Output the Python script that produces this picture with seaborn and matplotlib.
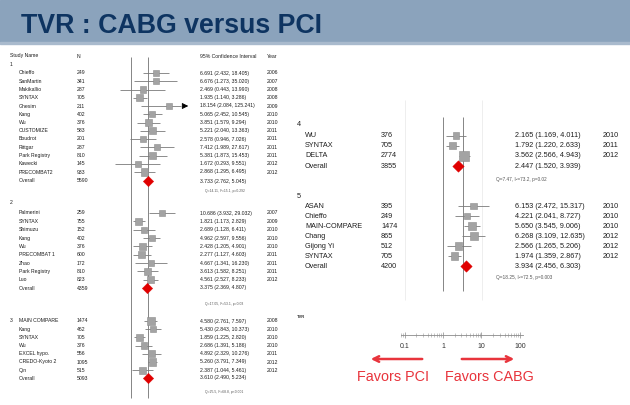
import numpy as np
import pandas as pd
import matplotlib
matplotlib.use("Agg")
import matplotlib.pyplot as plt
import seaborn as sns
from matplotlib.patches import Rectangle

sns.set_theme(style="white")
plt.rcParams["font.family"] = ["Liberation Sans", "DejaVu Sans"]

# ---------------- data ----------------
g1_names = ["Chieffo", "SanMartin", "Makikallio", "SYNTAX", "Ghesim", "Kang", "Wu", "CUSTOMIZE",
            "Boudrot", "Rittgar", "Park Registry", "Kawecki", "PRECOMBAT2"]
g1_n = [249, 341, 287, 705, 211, 402, 376, 583, 201, 287, 810, 145, 933]
g1_est = [6.691, 6.676, 2.469, 1.935, 18.154, 5.065, 3.851, 5.221, 2.578, 7.412, 5.381, 1.672, 2.868]
g1_lo = [2.432, 1.273, 0.443, 1.140, 2.084, 2.452, 1.579, 2.040, 0.946, 1.989, 1.873, 0.293, 1.295]
g1_hi = [18.405, 35.020, 13.990, 3.286, 125.241, 10.545, 9.294, 13.363, 7.026, 27.617, 15.453, 9.551, 6.495]
g1_year = [2006, 2007, 2008, 2008, 2009, 2010, 2010, 2011, 2011, 2011, 2011, 2012, 2012]
g1_overall = [5590, 3.733, 2.762, 5.045]
g1_q = "Q=14.11, I²=15.1, p=0.292"

g2_names = ["Palmerini", "SYNTAX", "Shimuzu", "Kang", "Wu", "PRECOMBAT 1", "Zhao", "Park Registry", "Luo"]
g2_n = [259, 755, 152, 402, 376, 600, 172, 810, 823]
g2_est = [10.686, 1.821, 2.689, 4.962, 2.428, 2.277, 4.667, 3.613, 4.561]
g2_lo = [3.932, 1.173, 1.128, 2.597, 1.205, 1.127, 1.341, 1.582, 2.527]
g2_hi = [29.032, 2.829, 6.411, 9.556, 4.901, 4.603, 16.230, 8.251, 8.233]
g2_year = [2007, 2009, 2010, 2010, 2010, 2011, 2011, 2011, 2012]
g2_overall = [4359, 3.375, 2.369, 4.807]
g2_q = "Q=17.05, I²=53.1, p=0.03"

g3_names = ["MAIN COMPARE", "Kang", "SYNTAX", "Wu", "EXCEL hypo.", "CREDO-Kyoto 2", "Qin"]
g3_n = [1474, 462, 705, 376, 556, 1095, 515]
g3_est = [4.580, 5.430, 1.859, 2.686, 4.892, 5.260, 2.387]
g3_lo = [2.761, 2.843, 1.225, 1.391, 2.329, 3.791, 1.044]
g3_hi = [7.597, 10.373, 2.820, 5.186, 10.276, 7.349, 5.461]
g3_year = [2008, 2010, 2010, 2010, 2011, 2012, 2012]
g3_overall = [5093, 3.610, 2.490, 5.234]
g3_q = "Q=25.5, I²=68.8, p<0.001"

g4_names = ["WU", "SYNTAX", "DELTA"]
g4_n = [376, 705, 2774]
g4_est = [2.165, 1.792, 3.562]
g4_lo = [1.169, 1.220, 2.566]
g4_hi = [4.011, 2.633, 4.943]
g4_year = [2010, 2011, 2012]
g4_overall = [3855, 2.447, 1.520, 3.939]
g4_q = "Q=7.47, I²=73.2, p=0.02"

g5_names = ["ASAN", "Chieffo", "MAIN-COMPARE", "Chang", "Gijong Yi", "SYNTAX"]
g5_n = [395, 249, 1474, 865, 512, 705]
g5_est = [6.153, 4.221, 5.650, 6.268, 2.566, 1.974]
g5_lo = [2.472, 2.041, 3.545, 3.109, 1.265, 1.359]
g5_hi = [15.317, 8.727, 9.006, 12.635, 5.206, 2.867]
g5_year = [2010, 2010, 2010, 2012, 2012, 2012]
g5_overall = [4200, 3.934, 2.456, 6.303]
g5_q = "Q=18.25, I²=72.5, p=0.003"

group_labels = ["1", "2", "3", "4", "5"]
header_labels = ["Study Name", "N", "95% Confidence Interval", "Year"]
axis_ticks = [0.1, 1, 10, 100]
axis_ticklabels = ["0.1", "1", "10", "100"]
title = "TVR : CABG versus PCI"
favors = ["Favors PCI", "Favors CABG"]
panel_label = "TVR"

# ---------------- layout ----------------
W, H = 630, 405
fig = plt.figure(figsize=(W / 100, H / 100), dpi=100)
fig.patch.set_facecolor("white")

bg = fig.add_axes([0, 0, 1, 1])
bg.set_xlim(0, W)
bg.set_ylim(H, 0)
bg.axis("off")

# banner
bg.add_patch(Rectangle((0, 0), W, 43, color="#8BA3BC", zorder=0))
bg.add_patch(Rectangle((0, 42), W, 2, color="#A9BACD", zorder=0))
bg.text(21, 33, title, fontsize=19.3, fontweight="bold", color="#0E3461",
        ha="left", va="baseline")


def forest_axes(x0, x1):
    # x0 = pixel position of 0.1, x1 = pixel position of 100
    ax = fig.add_axes([x0 / W, 0, (x1 - x0) / W, 1])
    ax.set_xscale("log")
    ax.set_xlim(0.1, 100)
    ax.set_ylim(H, 0)
    ax.axis("off")
    ax.patch.set_alpha(0)
    return ax


axL = forest_axes(101, 191)
axR = forest_axes(404.5, 520)

SQ_COLOR = "#A3A3A3"
LINE_COLOR = "#7A7A7A"
RED = "#E00000"
TXT = "#1E1E1E"


def draw_group(ax, names, n, est, lo, hi, year, overall, q, glabel, lay, cols, fs, side_fn):
    ys = [lay["first"] + i * lay["step"] for i in range(len(names))]
    bg.text(cols["label"], lay["label"], glabel, fontsize=fs, color=TXT, ha="left", va="center")
    xmax = ax.get_xlim()[1]
    for y, l, h in zip(ys, lo, hi):
        if h > xmax:
            ax.hlines(y, l, xmax * 0.45, color=LINE_COLOR, lw=0.6, zorder=2)
            ax.annotate("", xy=(xmax, y), xytext=(xmax * 0.45, y),
                        arrowprops=dict(arrowstyle="-|>", color="black", lw=0.6,
                                        mutation_scale=9), zorder=3)
        else:
            ax.hlines(y, l, h, color=LINE_COLOR, lw=0.6, zorder=2)
    df = pd.DataFrame({"est": est, "y": ys, "n": n})
    sizes = (np.array([side_fn(v) for v in n]) / 1.389) ** 2
    sns.scatterplot(data=df, x="est", y="y", marker="s", s=sizes, color=SQ_COLOR,
                    edgecolor="#8C8C8C", linewidth=0.4, legend=False, ax=ax, zorder=4)
    od = pd.DataFrame({"est": [overall[1]], "y": [lay["overall"]]})
    sns.scatterplot(data=od, x="est", y="y", marker="D", s=lay["dsize"], color=RED,
                    edgecolor=RED, linewidth=0.3, legend=False, ax=ax, zorder=5)
    ax.set_xlabel("")
    ax.set_ylabel("")
    ax.axis("off")
    for y, nm, nn, e, l, h, yr in zip(ys, names, n, est, lo, hi, year):
        bg.text(cols["name"], y, nm, fontsize=fs, color=TXT, ha="left", va="center")
        bg.text(cols["n"], y, f"{nn}", fontsize=fs, color=TXT, ha="left", va="center")
        bg.text(cols["ci"], y, f"{e:.3f} ({l:.3f}, {h:.3f})", fontsize=fs, color=TXT,
                ha="left", va="center")
        bg.text(cols["year"], y, f"{yr}", fontsize=fs, color=TXT, ha="left", va="center")
    oy = lay["overall"]
    bg.text(cols["name"], oy, "Overall", fontsize=fs, color=TXT, ha="left", va="center")
    bg.text(cols["n"], oy, f"{overall[0]}", fontsize=fs, color=TXT, ha="left", va="center")
    bg.text(cols["ci"], oy, f"{overall[1]:.3f} ({overall[2]:.3f}, {overall[3]:.3f})",
            fontsize=fs, color=TXT, ha="left", va="center")
    bg.text(cols["q"], lay["q"], q, fontsize=fs * 0.65, color="#555555", ha="left", va="center")


colsL = dict(label=10, name=19, n=77, ci=200, year=267, q=205)
colsR = dict(label=297, name=305, n=381, ci=515, year=603, q=496)
fsL, fsR = 3.7, 5.2

sideL = lambda v: 5.0 + np.sqrt(v) / 14
sideR = lambda v: 5.0 + np.sqrt(v) / 11

# reference lines
axL.vlines([1, 3.65], 57, 398, color="#858585", lw=0.7, zorder=1)
axR.vlines([0.1, 10], 100, 300, color="#EEEEEE", lw=0.7, zorder=0)
axR.vlines([1, 3.3], 117, 291, color="#858585", lw=0.7, zorder=1)

layL = [dict(label=64, first=73, step=8.25, overall=181, q=191, dsize=28),
        dict(label=203, first=213, step=8.35, overall=288, q=304, dsize=28),
        dict(label=321, first=321, step=8.2, overall=378, q=392, dsize=28)]
layR = [dict(label=125, first=135.5, step=10.2, overall=166, q=180, dsize=34),
        dict(label=196, first=206, step=10.0, overall=266, q=277, dsize=34)]

draw_group(axL, g1_names, g1_n, g1_est, g1_lo, g1_hi, g1_year, g1_overall, g1_q,
           group_labels[0], layL[0], colsL, fsL, sideL)
draw_group(axL, g2_names, g2_n, g2_est, g2_lo, g2_hi, g2_year, g2_overall, g2_q,
           group_labels[1], layL[1], colsL, fsL, sideL)
draw_group(axL, g3_names, g3_n, g3_est, g3_lo, g3_hi, g3_year, g3_overall, g3_q,
           group_labels[2], layL[2], colsL, fsL, sideL)
draw_group(axR, g4_names, g4_n, g4_est, g4_lo, g4_hi, g4_year, g4_overall, g4_q,
           group_labels[3], layR[0], colsR, fsR, sideR)
draw_group(axR, g5_names, g5_n, g5_est, g5_lo, g5_hi, g5_year, g5_overall, g5_q,
           group_labels[4], layR[1], colsR, fsR, sideR)

# header
for x, lab in zip([10, 77, 200, 267], header_labels):
    bg.text(x, 56, lab, fontsize=fsL, color=TXT, ha="left", va="center")

# bottom axis
axB = fig.add_axes([400.8 / W, (H - 335) / H, (523 - 400.8) / W, 0.5 / H])
axB.set_xscale("log")
axB.set_xlim(0.08, 120)
axB.patch.set_alpha(0)
for s in ["top", "left", "right"]:
    axB.spines[s].set_visible(False)
axB.spines["bottom"].set_color("#8A8A8A")
axB.spines["bottom"].set_linewidth(0.6)
axB.set_yticks([])
axB.set_xticks(axis_ticks)
axB.set_xticklabels(axis_ticklabels)
axB.tick_params(axis="x", which="major", direction="inout", length=5, width=0.5,
                color="#8A8A8A", labelsize=5, labelcolor="#333333", pad=3, bottom=True)
axB.tick_params(axis="x", which="minor", direction="inout", length=3, width=0.4,
                color="#9A9A9A", bottom=True)

bg.text(297, 317, panel_label, fontsize=3, fontweight="bold", color="#333333",
        ha="left", va="center")

# favors arrows
RED2 = "#E8343C"
bg.annotate("", xy=(368, 359), xytext=(425, 359),
            arrowprops=dict(arrowstyle="->", color=RED2, lw=1.8, mutation_scale=10))
bg.annotate("", xy=(517, 359), xytext=(459, 359),
            arrowprops=dict(arrowstyle="->", color=RED2, lw=1.8, mutation_scale=10))
bg.text(393, 377, favors[0], fontsize=10.4, color=RED2, ha="center", va="center")
bg.text(489, 377, favors[1], fontsize=10.4, color=RED2, ha="center", va="center")

fig.savefig("out.png", dpi=100)
